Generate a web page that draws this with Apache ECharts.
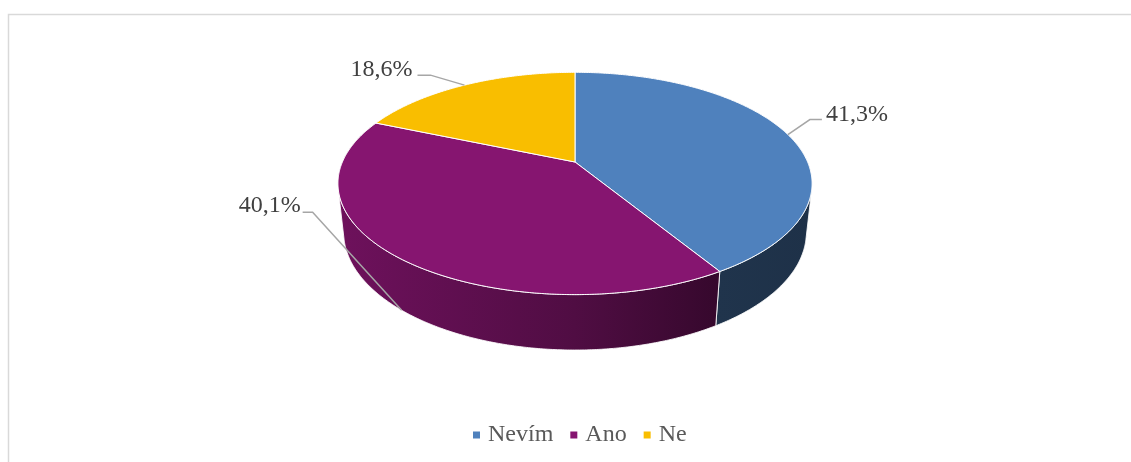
<!DOCTYPE html>
<html>
<head>
<meta charset="utf-8">
<script src="https://cdn.jsdelivr.net/npm/echarts@6/dist/echarts.min.js"></script>
<style>
html,body{margin:0;padding:0;background:#fff;}
#chart{width:1131px;height:462px;}
</style>
</head>
<body>
<div id="chart"></div>
<script>
// ---- data ----
const categories = ['Nevím', 'Ano', 'Ne'];
const values = [41.3, 40.1, 18.6];
const labelTexts = ['41,3%', '40,1%', '18,6%'];
const colors = ['#4F81BD', '#861570', '#F9BE00'];

// ---- layout / style (not data) ----
const labelLayout = [
  { elbow: [22, -15], end: [34, -15], text: [38, -20], align: 'left' },
  { elbow: [-89, -98], end: [-99, -98], text: [-101, -105], align: 'right' },
  { elbow: [-34, -10], end: [-47, -10], text: [-52, -15], align: 'right' }
];
const G = { cx: 575, cy: 162, f: 1070, r: 0.2174, sa: 0.46, h: 0.0518 };
G.ca = Math.sqrt(1 - G.sa * G.sa);

function proj(theta, H) {
  const X = G.r * Math.sin(theta);
  const Zp = G.r * Math.cos(theta);
  const Y = Zp * G.sa + H * G.ca;
  const dep = Zp * G.ca - H * G.sa;
  const s = G.f / (1 + dep);
  return [G.cx + X * s, G.cy - Y * s];
}
function shade(hex, k) {
  const n = parseInt(hex.slice(1), 16);
  const r = Math.round(((n >> 16) & 255) * k);
  const g = Math.round(((n >> 8) & 255) * k);
  const b = Math.round((n & 255) * k);
  return 'rgb(' + r + ',' + g + ',' + b + ')';
}
const total = values.reduce((a, b) => a + b, 0);
const starts = [];
let acc = 0;
values.forEach(v => { starts.push(acc); acc += v; });

const visLimit = Math.acos(-G.r / G.ca); // wall visible for theta in [visLimit, 2pi - visLimit]
const visA = visLimit, visB = 2 * Math.PI - visLimit;
const xLeft = proj(visB, 0)[0], xRight = proj(visA, 0)[0];

function arc(a, b, H) {
  const pts = [];
  const n = Math.max(2, Math.ceil(Math.abs(b - a) / (Math.PI / 360)));
  for (let i = 0; i <= n; i++) pts.push(proj(a + (b - a) * i / n, H));
  return pts;
}

const FONT = '"Liberation Serif", "Times New Roman", serif';

function makeRender(idx) {
  return function (params, api) {
    const a = starts[idx] / total * 2 * Math.PI;
    const b = (starts[idx] + values[idx]) / total * 2 * Math.PI;
    const children = [];
    // side wall
    const wa = Math.max(a, visA), wb = Math.min(b, visB);
    if (wb > wa) {
      const pts = arc(wa, wb, 0).concat(arc(wb, wa, -G.h));
      children.push({
        type: 'polygon', z2: 1,
        shape: { points: pts },
        style: {
          fill: {
            type: 'linear', x: xLeft, y: 0, x2: xRight, y2: 0, global: true,
            colorStops: [
              { offset: 0, color: shade(colors[idx], 0.82) },
              { offset: 0.5, color: shade(colors[idx], 0.6) },
              { offset: 0.8, color: shade(colors[idx], 0.4) },
              { offset: 1, color: shade(colors[idx], 0.38) }
            ]
          },
          stroke: 'rgba(255,255,255,0.85)', lineWidth: 1
        }
      });
    }
    // top
    const topPts = [[G.cx, G.cy]].concat(arc(a, b, 0));
    children.push({
      type: 'polygon', z2: 2,
      shape: { points: topPts },
      style: { fill: colors[idx], stroke: '#ffffff', lineWidth: 1 }
    });
    // label
    const mid = (a + b) / 2;
    const front = mid > visA && mid < visB;
    const anc = proj(mid, front ? -G.h : 0);
    const L = labelLayout[idx];
    children.push({
      type: 'polyline', z2: 3,
      shape: { points: [anc, [anc[0] + L.elbow[0], anc[1] + L.elbow[1]], [anc[0] + L.end[0], anc[1] + L.end[1]]] },
      style: { stroke: '#A6A6A6', lineWidth: 1.5, fill: null }
    });
    children.push({
      type: 'text', z2: 3,
      x: anc[0] + L.text[0], y: anc[1] + L.text[1],
      style: {
        text: labelTexts[idx], fill: '#404040',
        font: '24px ' + FONT,
        align: L.align, verticalAlign: 'middle'
      }
    });
    return { type: 'group', children: children };
  };
}

const chart = echarts.init(document.getElementById('chart'), null, { renderer: 'canvas' });
chart.setOption({
  animation: false,
  backgroundColor: '#ffffff',
  graphic: [{
    type: 'rect', z: -10,
    shape: { x: 8.5, y: 14.5, width: 1200, height: 600 },
    style: { fill: '#ffffff', stroke: '#D9D9D9', lineWidth: 1.5 }
  }],
  legend: {
    data: categories,
    left: 468, top: 418,
    icon: 'rect', itemWidth: 7, itemHeight: 7, itemGap: 17,
    textStyle: { fontFamily: FONT, fontSize: 24, color: '#595959', padding: [0, 0, 0, 3] }
  },
  series: categories.map((name, i) => ({
    type: 'custom', name: name, coordinateSystem: 'none',
    itemStyle: { color: colors[i] },
    data: [values[i]],
    renderItem: makeRender(i)
  }))
});
</script>
</body>
</html>
